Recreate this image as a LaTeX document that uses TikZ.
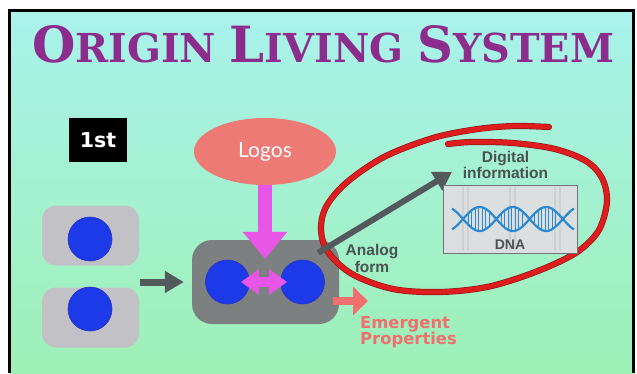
\documentclass[tikz,border=0pt]{standalone}
\usepackage{graphicx}
\usepackage{fontspec}
\usetikzlibrary{arrows.meta,shapes.geometric,calc}
\newfontfamily\titlefont{DejaVu Serif}
\newfontfamily\labelfont{DejaVu Sans}
\newfontfamily\notefont{Liberation Sans}
\newfontfamily\logosfont{Lato}

\definecolor{bgtop}{RGB}{170,242,236}
\definecolor{bgbot}{RGB}{158,240,182}
\definecolor{titlepurple}{RGB}{140,44,140}
\definecolor{cellgray}{RGB}{194,194,198}
\definecolor{biggray}{RGB}{124,128,128}
\definecolor{nucleus}{RGB}{28,58,232}
\definecolor{nucleusedge}{RGB}{40,50,190}
\definecolor{logosred}{RGB}{238,122,118}
\definecolor{pinkarrow}{RGB}{232,86,232}
\definecolor{darkarrow}{RGB}{84,90,92}
\definecolor{emergent}{RGB}{240,112,112}
\definecolor{inkgray}{RGB}{74,82,82}
\definecolor{circlered}{RGB}{222,30,30}
\definecolor{circlerim}{RGB}{150,20,20}
\definecolor{dnabox}{RGB}{220,223,223}
\definecolor{dnaedge}{RGB}{112,116,116}
\definecolor{dnastripe}{RGB}{205,209,209}
\definecolor{helix}{RGB}{44,138,212}

\begin{document}
\begin{tikzpicture}[x=1pt,y=-1pt,
  smallcell/.style={rectangle, rounded corners=14pt, fill=cellgray,
    minimum width=97pt, minimum height=60pt, inner sep=0pt},
  bigcell/.style={rectangle, rounded corners=20pt, fill=biggray,
    minimum width=147pt, minimum height=84pt, inner sep=0pt},
  nucleusdot/.style={circle, fill=nucleus, draw=nucleusedge, line width=0.6pt,
    minimum size=44pt, inner sep=0pt},
  textlabel/.style={inner sep=0pt, align=center},
  grayarrow/.style={draw=darkarrow, fill=darkarrow, line width=7pt,
    -{Triangle[length=19pt,width=21pt]}},
  pinkdouble/.style={draw=pinkarrow, fill=pinkarrow, line width=10pt,
    {Triangle[length=18pt,width=24pt]}-{Triangle[length=18pt,width=24pt]}},
  pinkdown/.style={draw=pinkarrow, fill=pinkarrow, line width=14pt,
    -{Triangle[length=27pt,width=43pt]}},
  emergentarrow/.style={draw=emergent, fill=emergent, line width=8pt,
    -{Triangle[length=15pt,width=28pt]}},
  analogarrow/.style={draw=darkarrow, fill=darkarrow, line width=6pt,
    -{Triangle[length=18pt,width=21pt]}}
]
\useasboundingbox (0,0) rectangle (637,373);
\fill[white] (0,0) rectangle (637,373);

% slide background and frame
\shade[top color=bgtop, bottom color=bgbot] (10,11) rectangle (634,373);
\fill[black] (8,9) rectangle (11,373);
\fill[black] (8,9) rectangle (635,12);
\fill[black] (632,9) rectangle (635,373);

% title
\node[anchor=base west, inner sep=0pt, text=titlepurple] (title) at (32,62)
  {\resizebox{582pt}{37pt}{\titlefont\bfseries
   {\fontsize{50}{50}\selectfont O}{\fontsize{40}{40}\selectfont RIGIN }%
   {\fontsize{50}{50}\selectfont L}{\fontsize{40}{40}\selectfont IVING }%
   {\fontsize{50}{50}\selectfont S}{\fontsize{40}{40}\selectfont YSTEM}}};

% stage tag
\node[fill=black, minimum width=58pt, minimum height=44pt, inner sep=0pt,
  text=white, font=\labelfont\bfseries\fontsize{20.5}{22}\selectfont]
  (stage) at (98,140) {1st};

% two separate cells
\node[smallcell] (cellA) at (90.5,235.5) {};
\node[smallcell] (cellB) at (90.5,317.5) {};
\node[nucleusdot] (nucA) at (90,239) {};
\node[nucleusdot] (nucB) at (90,309) {};
\coordinate (pairout) at (140,282);

% joined cell
\node[bigcell] (big) at (265.5,282) {};
\node[nucleusdot] (lc) at (227.5,282) {};
\node[nucleusdot] (rc) at (302.5,282) {};

% Logos
\node[ellipse, fill=logosred, minimum width=142pt, minimum height=67pt,
  inner sep=0pt, text=white, font=\logosfont\fontsize{21}{24}\selectfont]
  (logos) at (265,151.5) {Logos};

% hand-drawn red loop: dark rim under a bright stroke
\foreach \lw/\col in {6.2pt/circlerim, 4.8pt/circlered}
  \draw[\col, line width=\lw, line cap=round, line join=round]
    plot[smooth, tension=0.55] coordinates {
     (549,127) (515,126) (478,129) (433,138) (384,157) (346,183) (326,207)
     (321,230) (328,252) (352,274) (393,289) (440,292) (487,287) (530,274)
     (565,259) (585,246) (600,228) (607,201) (602,178) (586,161) (555,149)
     (513,143) (472,142) (448,144)};

% arrows
\draw[grayarrow] (pairout) -- (big.west) [shorten >=8pt];
\draw[pinkdown] (logos.south) -- (logos.south |- big.north) [shorten >=-19pt];
\draw[pinkdouble] ([xshift=-9pt]lc.east) -- ([xshift=7pt]rc.west);
\coordinate (emtip) at (368,301);
\draw[emergentarrow] ($(big.east)+(-6,19)$) -- (emtip);
\coordinate (digitip) at (452,172);
\draw[analogarrow] ($(big.north east)+(-21,13)$) -- (digitip);

% DNA panel
\node[rectangle, fill=dnabox, draw=dnaedge, line width=0.8pt,
  minimum width=134pt, minimum height=68pt, inner sep=0pt] (dna) at (510,219) {};
\foreach \sx in {463,468,510,515,555,560}
  \draw[dnastripe, line width=1.2pt] (\sx,187) -- (\sx,251);
\draw[helix, line width=2.2pt, domain=452:574, samples=120, smooth]
  plot (\x, {219+12*sin((\x-463)*5.4054)});
\draw[helix, line width=2.2pt, domain=452:574, samples=120, smooth]
  plot (\x, {219-12*sin((\x-463)*5.4054)});
\foreach \k in {0,1,2}
  \foreach \d in {5,8.5,...,29}
    \draw[helix, line width=0.9pt]
      ({463+33.3*\k+\d}, {219+11*sin(\d*5.4054)}) --
      ({463+33.3*\k+\d}, {219-11*sin(\d*5.4054)});
\node[textlabel, anchor=base, text=inkgray,
  font=\notefont\bfseries\fontsize{14}{16}\selectfont] (dnalabel) at (510,249) {DNA};

% labels (a multi-line node's base is its last line)
\node[textlabel, anchor=base, text=inkgray,
  font=\notefont\bfseries\fontsize{15.5}{16}\selectfont] (digital) at (505.5,178)
  {Digital\\information};
\node[textlabel, anchor=base, text=inkgray,
  font=\notefont\bfseries\fontsize{15.5}{17}\selectfont] (analog) at (372,272)
  {Analog\\form};
\node[textlabel, anchor=base west, align=left, text=emergent,
  font=\labelfont\bfseries\fontsize{16.4}{16}\selectfont] (emergtext) at (360,344)
  {Emergent\\Properties};
\end{tikzpicture}
\end{document}
